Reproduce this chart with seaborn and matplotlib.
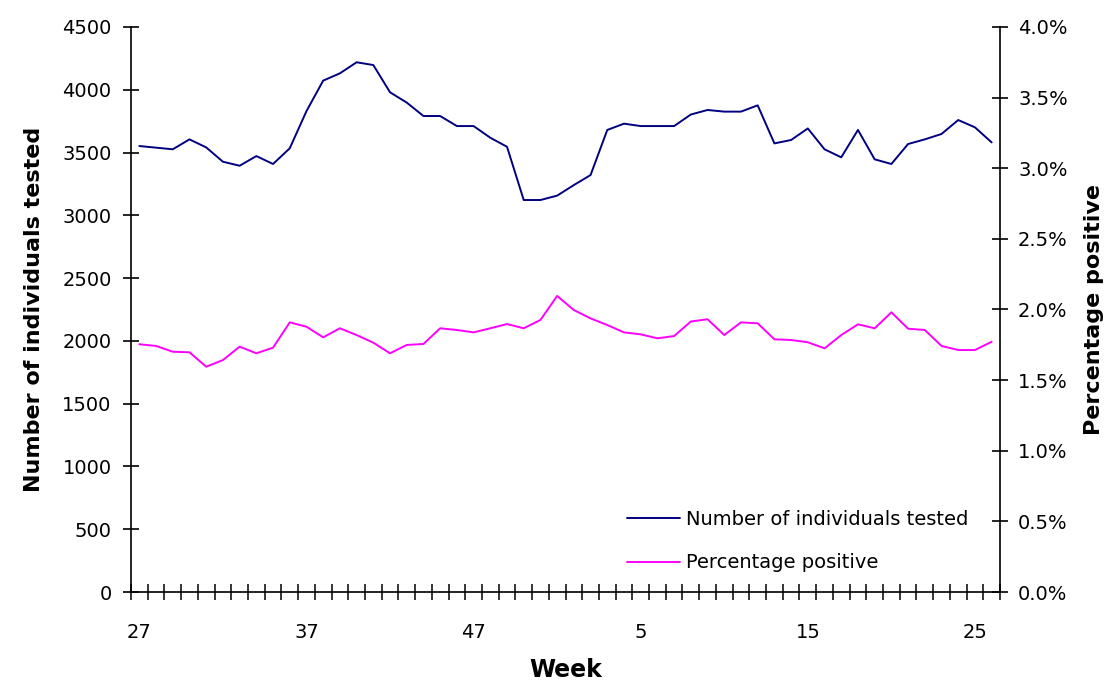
import matplotlib
matplotlib.use("Agg")
import matplotlib.pyplot as plt
import seaborn as sns
import pandas as pd
from matplotlib.ticker import PercentFormatter, FixedLocator

weeks = [27, 28, 29, 30, 31, 32, 33, 34, 35, 36, 37, 38, 39, 40, 41, 42, 43, 44, 45, 46,
         47, 48, 49, 50, 51, 52, 1, 2, 3, 4, 5, 6, 7, 8, 9, 10, 11, 12, 13, 14, 15, 16,
         17, 18, 19, 20, 21, 22, 23, 24, 25, 26]

tested = [3552, 3539, 3526, 3605, 3541, 3427, 3395, 3472, 3409, 3534,
          3830, 4073, 4131, 4219, 4197, 3980, 3898, 3791, 3791, 3711,
          3711, 3618, 3546, 3122, 3122, 3157, 3241, 3321, 3680, 3730,
          3711, 3711, 3711, 3803, 3839, 3826, 3826, 3876, 3573, 3600,
          3692, 3526, 3462, 3680, 3446, 3409, 3568, 3605, 3648, 3759,
          3701, 3581]

pct_positive = [1.754, 1.742, 1.701, 1.697, 1.595, 1.642, 1.737, 1.690, 1.730, 1.909,
                1.878, 1.803, 1.867, 1.819, 1.765, 1.690, 1.749, 1.756, 1.867, 1.855,
                1.838, 1.867, 1.897, 1.867, 1.926, 2.096, 1.996, 1.937, 1.890, 1.838,
                1.824, 1.796, 1.812, 1.915, 1.931, 1.819, 1.909, 1.902, 1.789, 1.784,
                1.768, 1.725, 1.819, 1.895, 1.867, 1.980, 1.864, 1.855, 1.742, 1.713,
                1.713, 1.772]

label_every = 10

df = pd.DataFrame({"pos": range(len(weeks)), "week": weeks,
                   "tested": tested, "pct": pct_positive})

sns.set_style("ticks")
plt.rcParams["font.family"] = ["DejaVu Sans"]
plt.rcParams["text.color"] = "black"
plt.rcParams["axes.labelcolor"] = "black"
plt.rcParams["xtick.color"] = "black"
plt.rcParams["ytick.color"] = "black"

fig = plt.figure(figsize=(11.14, 6.84), dpi=100)
ax = fig.add_axes([131 / 1114, 1 - 592 / 684, (1000 - 131) / 1114, (592 - 27) / 684])
ax2 = ax.twinx()

sns.lineplot(data=df, x="pos", y="tested", ax=ax, color="#000080", lw=1.4,
             label="Number of individuals tested", legend=False)
sns.lineplot(data=df, x="pos", y="pct", ax=ax2, color="#FF00FF", lw=1.4,
             label="Percentage positive", legend=False)

n = len(weeks)
ax.set_xlim(-0.5, n - 0.5)
ax.set_ylim(0, 4500)
ax.set_yticks(range(0, 4501, 500))
ax2.set_ylim(0, 4)
ax2.set_yticks([i * 0.5 for i in range(9)])
ax2.yaxis.set_major_formatter(PercentFormatter(xmax=100, decimals=1))

major = list(range(0, n, label_every))
ax.set_xticks(major)
ax.set_xticklabels([str(weeks[i]) for i in major])
ax.xaxis.set_minor_locator(FixedLocator([i - 0.5 for i in range(n + 1)]))

for a in (ax, ax2):
    a.spines["top"].set_visible(False)
    for s in a.spines.values():
        s.set_color("black")
        s.set_linewidth(1.2)
    a.grid(False)
ax.spines["right"].set_visible(False)
ax2.spines["left"].set_visible(False)
ax2.spines["bottom"].set_visible(False)

ax.tick_params(axis="y", direction="inout", length=12, width=1.2, pad=8,
               labelsize=14, colors="black")
ax2.tick_params(axis="y", direction="inout", length=12, width=1.2, pad=7,
                labelsize=14, colors="black")
ax.tick_params(axis="x", which="major", length=0, pad=22, labelsize=14, colors="black")
ax.tick_params(axis="x", which="minor", direction="inout", length=11, width=1.1, colors="black")

ax.set_xlabel("Week", fontsize=17, fontweight="bold", labelpad=12, color="black")
ax.set_ylabel("Number of individuals tested", fontsize=16, fontweight="bold",
              labelpad=13, color="black")
ax2.set_ylabel("Percentage positive", fontsize=16, fontweight="bold",
               labelpad=12, color="black")

h1, l1 = ax.get_legend_handles_labels()
h2, l2 = ax2.get_legend_handles_labels()
leg = ax2.legend(h1 + h2, l1 + l2, loc="upper left", bbox_to_anchor=(0.571, 0.145),
                 frameon=False, fontsize=14, handlelength=2.7, handletextpad=0.3,
                 labelspacing=1.25, borderpad=0, borderaxespad=0)
for t in leg.get_texts():
    t.set_color("black")

fig.savefig("out.png", dpi=100)
